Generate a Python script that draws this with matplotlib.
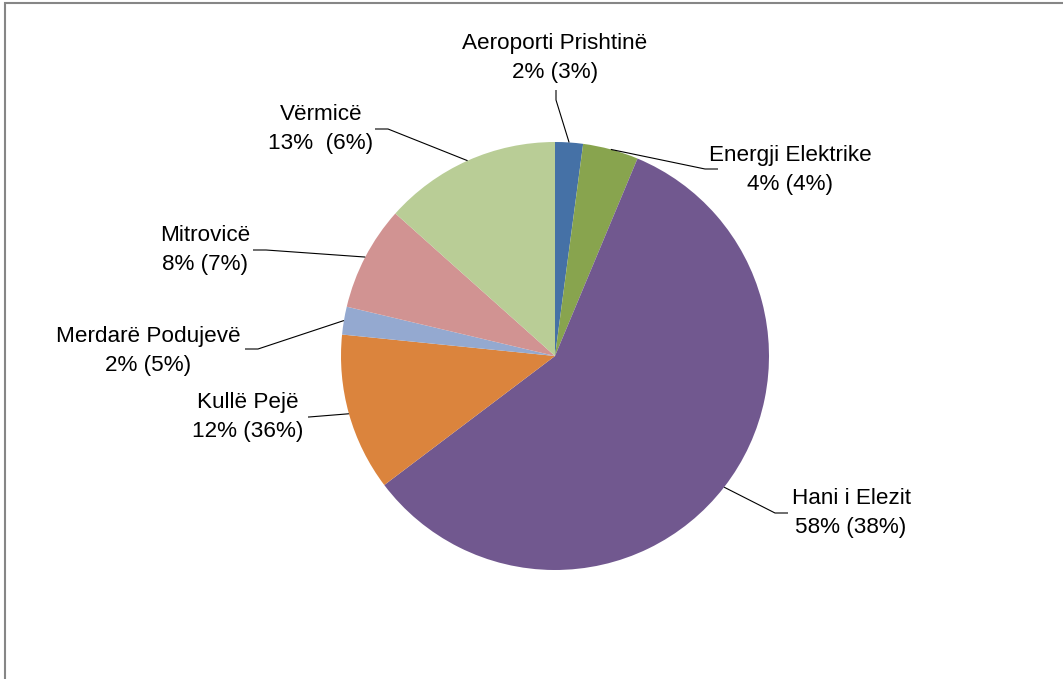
import numpy as np
import matplotlib
matplotlib.use("Agg")
import matplotlib.pyplot as plt
from matplotlib.patches import Rectangle

plt.rcParams['font.family'] = ['Liberation Sans', 'DejaVu Sans']

# slice sizes and the printed label values
stations = ["Aeroporti Prishtinë", "Energji Elektrike", "Hani i Elezit", "Kullë Pejë",
            "Merdarë Podujevë", "Mitrovicë", "Vërmicë"]
sizes = [2.1, 4.2, 58.4, 11.9, 2.1, 7.9, 13.4]
share_pct = [2, 4, 58, 12, 2, 8, 13]
other_pct = [3, 4, 38, 36, 5, 7, 6]
colors = ["#4571A6", "#88A44E", "#71588F", "#DB843D", "#94A9D0", "#D19392", "#B9CD96"]

W, H = 1063, 679
cx, cy, rad = 555, 356, 214

# label layout in pixel coords (y from top): text centre, elbow and tail of leader
label_xy = [(555, 58), (790, 170), (851, 513), (248, 417), (148, 351), (205, 250), (321, 129)]
elbow_xy = [(556, 100), (705, 169), (775, 513), (309, 417), (258, 349), (266, 250), (388, 129)]
tail_xy = [(556, 90), (718, 169), (788, 513), (308, 417), (245, 349), (253, 250), (375, 129)]

fig = plt.figure(figsize=(W / 100, H / 100), dpi=100)
ax = fig.add_axes([0, 0, 1, 1])

wedges, _ = ax.pie(sizes, colors=colors, startangle=90, counterclock=False,
                   center=(cx, H - cy), radius=rad,
                   wedgeprops=dict(linewidth=0))
ax.set_xlim(0, W)
ax.set_ylim(0, H)
ax.set_aspect("equal")
ax.axis("off")

for i, w in enumerate(wedges):
    mid = np.deg2rad((w.theta1 + w.theta2) / 2)
    ex = cx + rad * np.cos(mid)
    ey = (H - cy) + rad * np.sin(mid)
    xs = [ex, elbow_xy[i][0], tail_xy[i][0]]
    ys = [ey, H - elbow_xy[i][1], H - tail_xy[i][1]]
    ax.plot(xs, ys, color="black", lw=0.8, solid_capstyle="butt")
    gap = "  " if stations[i] == "Vërmicë" else " "
    txt = f"{stations[i]}\n{share_pct[i]}%{gap}({other_pct[i]}%)"
    ax.text(label_xy[i][0], H - label_xy[i][1], txt, ha="center", va="center",
            fontsize=16.2, linespacing=1.48, color="black")

# chart-area border, only top and left edges fall inside the picture
fig.patches.append(Rectangle((4.5 / W, -0.1), 1.2, (H - 3.5) / H + 0.1,
                             transform=fig.transFigure, fill=False,
                             edgecolor="#868686", linewidth=1.5))

fig.savefig("out.png", dpi=100)
